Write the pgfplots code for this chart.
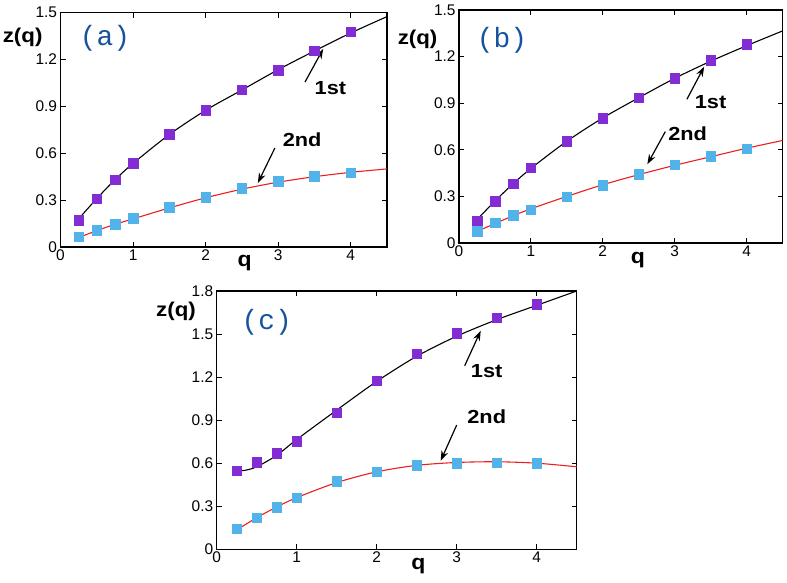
\documentclass[border=0pt]{standalone}
\usepackage{fontspec}
\setmainfont{Liberation Sans}
\newfontfamily\monofont{Liberation Mono}
\usepackage{pgfplots}
\pgfplotsset{compat=1.18}
\usetikzlibrary{arrows.meta}
\definecolor{mpurple}{RGB}{132,44,212}
\definecolor{mblue}{RGB}{82,178,234}
\definecolor{mred}{RGB}{236,30,30}
\definecolor{mtext}{RGB}{22,82,158}
\pgfplotsset{
  panel/.style={
    scale only axis,
    anchor=south west,
    xmin=0, xmax=4.5, ymin=0,
    xtick={0,1,2,3,4},
    xticklabels={0,1,2,3,4},
    tick align=inside,
    major tick length=5bp,
    axis line style={line width=1.1pt},
    every tick/.style={black,line width=0.8pt},
    /pgf/number format/assume math mode=true,
    tick label style={font=\fontsize{15.5}{15.5}\selectfont},
    xticklabel style={yshift=1bp},
    clip=false,
  },
  pts/.style={only marks, mark=square*, mark size=4.8bp},
  fit/.style={no marks, smooth, line width=1.1pt},
}
\newcommand{\lab}[3]{\node[font=\bfseries\fontsize{20}{20}\selectfont, xscale=1.12] at (axis description cs:#1,#2) {#3};}
\newcommand{\qlab}[2]{\node[font=\bfseries\fontsize{21}{21}\selectfont, anchor=base, xscale=1.1] at (axis description cs:#1,#2) {q};}
\newcommand{\plab}[3]{\node[font=\monofont\fontsize{28}{28}\selectfont, text=mtext] at (axis description cs:#1,#2) {#3};}
\newcommand{\ann}[7]{%
  \draw[line width=1.2pt,-{Stealth[length=10bp,width=7bp]}] (axis cs:#1,#2) -- (axis cs:#3,#4);
  \node[font=\bfseries\fontsize{19}{19}\selectfont, xscale=1.15] at (axis cs:#5,#6) {#7};}
\begin{document}
\begin{tikzpicture}
\path[use as bounding box] (0bp,0bp) rectangle (787bp,583bp);
% (a)
\begin{axis}[panel, at={(60.5bp,336bp)}, width=326.5bp, height=234.3bp, ymax=1.5,
  ytick={0,0.3,0.6,0.9,1.2,1.5}, yticklabels={0,0.3,0.6,0.9,1.2,1.5}]
\addplot[pts, color=mpurple] coordinates {(0.25,0.17)(0.5,0.31)(0.75,0.43)(1,0.535)(1.5,0.722)(2,0.874)(2.5,1.008)(3,1.131)(3.5,1.256)(4,1.379)};
\addplot[pts, color=mblue] coordinates {(0.25,0.065)(0.5,0.108)(0.75,0.147)(1,0.185)(1.5,0.255)(2,0.32)(2.5,0.375)(3,0.42)(3.5,0.455)(4,0.475)};
\addplot[fit, black] coordinates {(0.25,0.18)(0.5,0.31)(0.75,0.43)(1,0.535)(1.5,0.72)(2,0.875)(2.5,1.005)(3,1.135)(3.5,1.255)(4,1.37)(4.5,1.475)};
\addplot[fit, mred] coordinates {(0.25,0.06)(0.5,0.105)(0.75,0.145)(1,0.18)(1.5,0.25)(2,0.315)(2.5,0.37)(3,0.415)(3.5,0.45)(4,0.478)(4.5,0.5)};
\lab{-0.116}{0.896}{z(q)}
\qlab{0.564}{-0.083}
\plab{0.136}{0.889}{(a)}
\ann{3.37}{1.056}{3.62}{1.268}{3.72}{1.018}{1st}
\ann{2.955}{0.634}{2.72}{0.41}{3.33}{0.685}{2nd}
\end{axis}
% (b)
\begin{axis}[panel, at={(459bp,340bp)}, width=323.5bp, height=233bp, ymax=1.5,
  ytick={0,0.3,0.6,0.9,1.2,1.5}, yticklabels={0,0.3,0.6,0.9,1.2,1.5}]
\addplot[pts, color=mpurple] coordinates {(0.25,0.142)(0.5,0.269)(0.75,0.383)(1,0.486)(1.5,0.655)(2,0.804)(2.5,0.935)(3,1.06)(3.5,1.176)(4,1.279)};
\addplot[pts, color=mblue] coordinates {(0.25,0.075)(0.5,0.131)(0.75,0.178)(1,0.215)(1.5,0.299)(2,0.372)(2.5,0.443)(3,0.503)(3.5,0.559)(4,0.606)};
\addplot[fit, black] coordinates {(0.25,0.15)(0.5,0.27)(0.75,0.38)(1,0.48)(1.5,0.655)(2,0.805)(2.5,0.935)(3,1.06)(3.5,1.17)(4,1.27)(4.5,1.365)};
\addplot[fit, mred] coordinates {(0.25,0.075)(0.5,0.125)(0.75,0.175)(1,0.22)(1.5,0.3)(2,0.375)(2.5,0.44)(3,0.5)(3.5,0.555)(4,0.61)(4.5,0.66)};
\lab{-0.128}{0.876}{z(q)}
\qlab{0.553}{-0.087}
\plab{0.133}{0.871}{(b)}
\ann{3.17}{0.925}{3.41}{1.135}{3.5}{0.91}{1st}
\ann{2.87}{0.717}{2.62}{0.507}{3.18}{0.706}{2nd}
\end{axis}
% (c)
\begin{axis}[panel, at={(216.7bp,33.7bp)}, width=360bp, height=258.3bp, ymax=1.8,
  ytick={0,0.3,0.6,0.9,1.2,1.5,1.8}, yticklabels={0,0.3,0.6,0.9,1.2,1.5,1.8}]
\addplot[pts, color=mpurple] coordinates {(0.25,0.547)(0.5,0.605)(0.75,0.67)(1,0.754)(1.5,0.953)(2,1.174)(2.5,1.362)(3,1.505)(3.5,1.614)(4,1.71)};
\addplot[pts, color=mblue] coordinates {(0.25,0.144)(0.5,0.22)(0.75,0.295)(1,0.36)(1.5,0.473)(2,0.54)(2.5,0.585)(3,0.598)(3.5,0.603)(4,0.598)};
\addplot[fit, black] coordinates {(0.25,0.547)(0.35,0.55)(0.5,0.575)(0.75,0.655)(1,0.765)(1.5,0.97)(2,1.17)(2.5,1.345)(3,1.485)(3.5,1.6)(4,1.7)(4.5,1.8)};
\addplot[fit, mred] coordinates {(0.25,0.135)(0.5,0.22)(0.75,0.295)(1,0.36)(1.5,0.465)(2,0.54)(2.5,0.585)(3,0.605)(3.5,0.61)(4,0.6)(4.5,0.575)};
\lab{-0.113}{0.921}{z(q)}
\qlab{0.56}{-0.08}
\plab{0.139}{0.877}{(c)}
\ann{3.10}{1.279}{3.30}{1.523}{3.375}{1.244}{1st}
\ann{3.0}{0.866}{2.80}{0.617}{3.375}{0.924}{2nd}
\end{axis}
\end{tikzpicture}
\end{document}
